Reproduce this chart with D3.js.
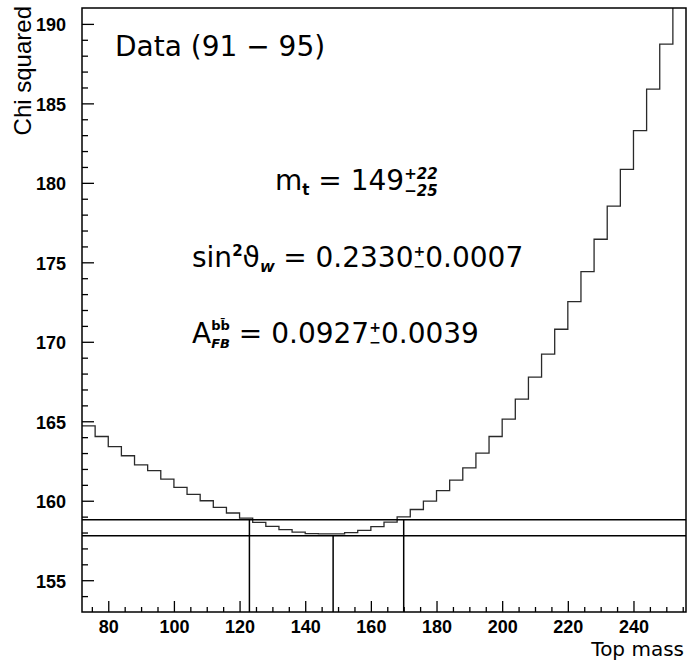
<!DOCTYPE html>
<html>
<head>
<meta charset="utf-8">
<script src="https://cdn.jsdelivr.net/npm/d3@7"></script>
<style>
  html, body { margin: 0; padding: 0; background: #fff; }
  svg { display: block; }
  svg text { white-space: pre; }
</style>
</head>
<body>
<svg id="chart" width="688" height="660"></svg>
<script>
// ---- data ----
const binLowEdges = [72, 76, 80, 84, 88, 92, 96, 100, 104, 108, 112, 116, 120, 124, 128, 132,
  136, 140, 144, 148, 152, 156, 160, 164, 168, 172, 176, 180, 184, 188, 192, 196, 200, 204,
  208, 212, 216, 220, 224, 228, 232, 236, 240, 244, 248, 252];
const binWidth = 4;
const chiSquared = [164.71, 164.04, 163.41, 162.83, 162.26, 161.89, 161.36, 160.84, 160.40, 160.00,
  159.58, 159.23, 158.91, 158.64, 158.39, 158.18, 158.03, 157.93, 157.91, 157.91, 157.99, 158.13,
  158.37, 158.66, 158.99, 159.45, 159.98, 160.63, 161.30, 162.07, 163.00, 164.04, 165.14, 166.39,
  167.78, 169.22, 170.79, 172.53, 174.41, 176.45, 178.54, 180.85, 183.28, 185.90, 188.73, 191.80];
const chiMin = 157.8;
const chiMinPlusOne = 158.8;
const massLow = 123.0, massBest = 148.5, massHigh = 170.0;
const xDomain = [72, 256];
const yDomain = [153, 191];
const xMajorTicks = [80, 100, 120, 140, 160, 180, 200, 220, 240];
const yMajorTicks = [155, 160, 165, 170, 175, 180, 185, 190];
const xTitle = "Top mass";
const yTitle = "Chi squared";
const dataLabel = "Data (91 \u2212 95)";

// ---- layout ----
const svg = d3.select("#chart");
const L = 82, R = 686, T = 8, B = 612;
const x = d3.scaleLinear().domain(xDomain).range([L, R]);
const y = d3.scaleLinear().domain(yDomain).range([B, T]);

svg.append("defs").append("clipPath").attr("id", "plotclip")
  .append("rect").attr("x", L).attr("y", T).attr("width", R - L).attr("height", B - T);

// minor ticks
const xMinor = d3.range(75, 256, 5).filter(v => !xMajorTicks.includes(v));
const yMinor = d3.range(154, 191, 1).filter(v => !yMajorTicks.includes(v));

const tickFont = "'Liberation Sans', Arial, sans-serif";

const gx = svg.append("g").attr("transform", `translate(0,${B})`);
gx.call(d3.axisBottom(x).tickValues(xMajorTicks).tickSize(-11).tickPadding(8).tickFormat(d3.format("d")));
const gxm = svg.append("g").attr("transform", `translate(0,${B})`);
gxm.call(d3.axisBottom(x).tickValues(xMinor).tickSize(-5).tickFormat(""));

const gy = svg.append("g").attr("transform", `translate(${L},0)`);
gy.call(d3.axisLeft(y).tickValues(yMajorTicks).tickSize(-12).tickPadding(16).tickFormat(d3.format("d")));
const gym = svg.append("g").attr("transform", `translate(${L},0)`);
gym.call(d3.axisLeft(y).tickValues(yMinor).tickSize(-6).tickFormat(""));

[gx, gxm, gy, gym].forEach(g => {
  g.select(".domain").remove();
  g.selectAll(".tick line").attr("stroke", "#000").attr("stroke-width", 1.3);
  g.selectAll("text").attr("font-family", tickFont).attr("font-size", 18)
    .attr("font-weight", "bold").attr("fill", "#000");
});
gx.selectAll(".tick text").attr("y", 8).attr("dy", "0.72em");
gy.selectAll(".tick text").attr("dy", "0.38em");

// histogram
const pts = binLowEdges.map((e, i) => [e, chiSquared[i]]);
pts.push([binLowEdges[binLowEdges.length - 1] + binWidth, chiSquared[chiSquared.length - 1]]);
const line = d3.line().x(d => x(d[0])).y(d => y(d[1])).curve(d3.curveStepAfter);
svg.append("path").attr("clip-path", "url(#plotclip)")
  .attr("d", line(pts)).attr("fill", "none").attr("stroke", "#2a2a2a").attr("stroke-width", 1.3);

// horizontal lines
[chiMinPlusOne, chiMin].forEach(v => {
  svg.append("line").attr("x1", x(xDomain[0])).attr("x2", x(xDomain[1]))
    .attr("y1", y(v)).attr("y2", y(v)).attr("stroke", "#000").attr("stroke-width", 1.5);
});
// vertical lines
[[massLow, chiMinPlusOne], [massBest, chiMin], [massHigh, chiMinPlusOne]].forEach(([m, v]) => {
  svg.append("line").attr("x1", x(m)).attr("x2", x(m))
    .attr("y1", y(v)).attr("y2", y(yDomain[0])).attr("stroke", "#000").attr("stroke-width", 1.5);
});

// frame
svg.append("rect").attr("x", L).attr("y", T).attr("width", R - L).attr("height", B - T)
  .attr("fill", "none").attr("stroke", "#000").attr("stroke-width", 1.5);

// axis titles
svg.append("text").attr("transform", `translate(31,${T - 2}) rotate(-90)`)
  .attr("text-anchor", "end").attr("font-family", tickFont).attr("font-size", 24)
  .attr("fill", "#000").text(yTitle);

const annFont = "'DejaVu Sans', sans-serif";
svg.append("text").attr("x", 684).attr("y", 656).attr("text-anchor", "end")
  .attr("font-family", annFont).attr("font-size", 20).attr("fill", "#000").text(xTitle);

svg.append("text").attr("x", 115).attr("y", 56).attr("font-family", annFont)
  .attr("font-size", 28).attr("fill", "#000").text(dataLabel);

// formula layout helper
function formula(x0, y0, items) {
  let cx = x0;
  const g = svg.append("g");
  function put(it, px) {
    const t = g.append("text").attr("x", px).attr("y", y0 + (it.dy || 0))
      .attr("font-family", annFont).attr("font-size", it.size || 28)
      .attr("font-weight", it.bold ? "bold" : "normal")
      .attr("font-style", it.italic ? "italic" : "normal")
      .attr("fill", "#000").text(it.s);
    return t.node().getComputedTextLength();
  }
  items.forEach(it => {
    if (it.stack) {
      const w1 = put(it.stack[0], cx);
      const w2 = put(it.stack[1], cx);
      cx += Math.max(w1, w2) + (it.gap || 0);
    } else {
      cx += put(it, cx) + (it.gap || 0);
    }
  });
}

const NB = "\u00A0";
formula(275, 190, [
  { s: "m" },
  { s: "t", size: 15, bold: true, dy: 5 },
  { s: NB + "=" + NB + "149" },
  { stack: [{ s: "+22", size: 15, bold: true, italic: true, dy: -11 },
            { s: "\u221225", size: 15, bold: true, italic: true, dy: 6 }] }
]);

formula(192, 267, [
  { s: "sin" },
  { s: "2", size: 15, bold: true, dy: -11 },
  { s: "\u03D1" },
  { s: "W", size: 13, bold: true, italic: true, dy: 5 },
  { s: NB + "=" + NB + "0.2330" },
  { stack: [{ s: "+", size: 14, bold: true, dy: -11 },
            { s: "\u2212", size: 14, bold: true, dy: 4 }] },
  { s: "0.0007" }
]);

formula(192, 343, [
  { s: "A" },
  { stack: [{ s: "bb\u0304", size: 13, bold: true, dy: -13 },
            { s: "FB", size: 13, bold: true, italic: true, dy: 5 }] },
  { s: NB + "=" + NB + "0.0927" },
  { stack: [{ s: "+", size: 14, bold: true, dy: -11 },
            { s: "\u2212", size: 14, bold: true, dy: 4 }] },
  { s: "0.0039" }
]);
</script>
</body>
</html>
